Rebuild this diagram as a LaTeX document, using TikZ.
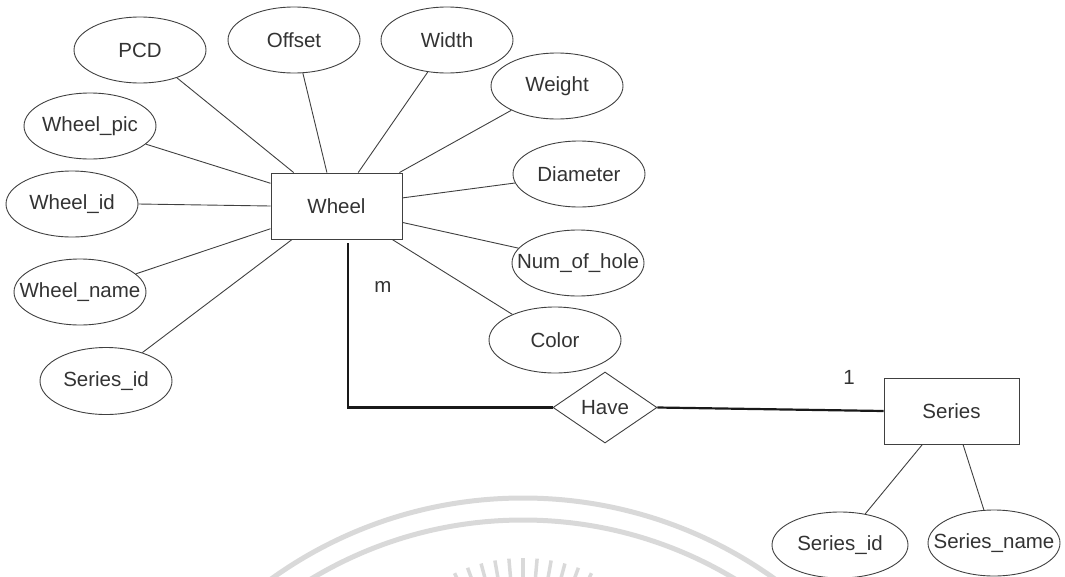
\documentclass[tikz,border=0pt]{standalone}
\usepackage{fontspec}
\setmainfont{Liberation Sans}
\usetikzlibrary{shapes.geometric}
\begin{document}
\begin{tikzpicture}[x=1pt,y=-1pt,
  every node/.style={font=\fontsize{20.5}{24}\selectfont, text=black!80},
  attr/.style={ellipse, draw=black!75, line width=0.9pt, minimum width=132pt,
               minimum height=66pt, inner sep=0pt},
  entity/.style={rectangle, draw=black!75, line width=0.9pt, inner sep=0pt},
  rel/.style={diamond, draw=black!75, line width=0.9pt, minimum width=104pt,
              minimum height=71pt, inner sep=0pt},
  link/.style={draw=black!75, line width=0.9pt},
  rlink/.style={draw=black!90, line width=2.2pt},
  stamp/.style={draw=black!15, line width=5pt}
]
\useasboundingbox (0,0) rectangle (1065,576);

% faint seal in the background
\begin{scope}
  \clip (0,0) rectangle (1065,576);
  \draw[stamp] (523,930) circle[radius=432];
  \draw[stamp] (523,930) circle[radius=410];
  \foreach \a in {-125,-120,...,-55}
    \draw[stamp, line width=3.5pt] (523,720) ++(\a:140) -- ++(\a:22);
\end{scope}

% entities and relationship
\node[entity, minimum width=131pt, minimum height=66pt] (wheel) at (336.5,206) {Wheel};
\node[rel] (have) at (605,407.5) {Have};
\node[entity, minimum width=135pt, minimum height=66pt] (series) at (951.5,411) {Series};

% attributes of Wheel
\node[attr, label=center:{PCD}] (pcd) at (140,50) {};
\node[attr, label=center:{Offset}] (offset) at (294,40) {};
\node[attr, label=center:{Width}] (width) at (447,40) {};
\node[attr, label=center:{Weight}] (weight) at (557,86) {};
\node[attr, label=center:{Diameter}] (diam) at (579,174) {};
\node[attr, label=center:{Num\_of\_hole}] (holes) at (578,263) {};
\node[attr, label=center:{Color}] (color) at (555,340) {};
\node[attr, label=center:{Wheel\_pic}] (pic) at (90,126) {};
\node[attr, label=center:{Wheel\_id}] (wid) at (72,204) {};
\node[attr, label=center:{Wheel\_name}] (wname) at (80,292) {};
\node[attr, minimum height=67pt, label=center:{Series\_id}] (wsid) at (106,381) {};

% attributes of Series
\node[attr, minimum width=136pt, label=center:{Series\_id}] (ssid) at (840,545) {};
\node[attr, label=center:{Series\_name}] (sname) at (994,543) {};

% cardinalities
\node (m) at (383,287) {m};
\node (one) at (849,377) {1};

% attribute links
\draw[link] (pcd.-37) -- (wheel.142);
\draw[link] (offset.-75) -- (wheel.106);
\draw[link] (width.-121) -- (wheel.57);
\draw[link] (weight.-152) -- (wheel.28);
\draw[link] (diam.-172) -- (wheel.7);
\draw[link] (holes.166) -- (wheel.-14);
\draw[link] (color.149) -- (wheel.-31);
\draw[link] (pic.-18) -- (wheel.161);
\draw[link] (wid.east) -- (wheel.west);
\draw[link] (wname.18) -- (wheel.-161);
\draw[link] (wsid.38) -- (wheel.-143);
\draw[link] (ssid.51) -- (series.-131);
\draw[link] (sname.107) -- (series.-71);

% relationship links
\draw[rlink, shorten <=4pt] ([xshift=11.5pt]wheel.south) |- (have.west);
\draw[rlink] (have.east) -- (series.west);
\end{tikzpicture}
\end{document}
